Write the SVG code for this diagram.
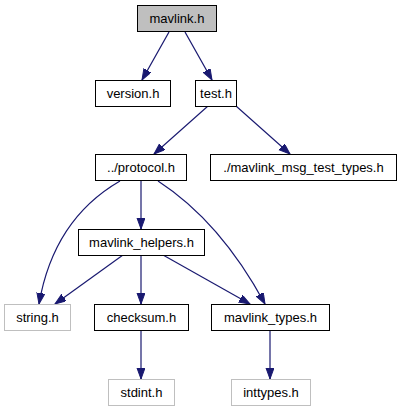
<svg xmlns="http://www.w3.org/2000/svg" width="403" height="411" viewBox="0 0 403 411">
<style>
.n rect{fill:#fff;stroke:#000;stroke-width:1}
.n.root rect{fill:#bfbfbf}
.n.ext rect{stroke:#bfbfbf}
.n text{font-family:"Liberation Sans",Arial,sans-serif;font-size:13px;fill:#000;text-anchor:middle}
.e path{fill:none;stroke:#191970;stroke-width:1.2}
</style>
<defs>
<marker id="ah" markerUnits="userSpaceOnUse" markerWidth="12" markerHeight="10" refX="11" refY="4" orient="auto">
<path d="M0,0 L11,4 L0,8 Z" fill="#191970" stroke="#191970" stroke-width="1"/>
</marker>
</defs>
<rect width="403" height="411" fill="#fff"/>
<g id="connectors" class="e">
<path d="M169,32 L142,80" marker-end="url(#ah)"/>
<path d="M185,32 L212,80" marker-end="url(#ah)"/>
<path d="M208,106 L154,154" marker-end="url(#ah)"/>
<path d="M236,106 L290,154" marker-end="url(#ah)"/>
<path d="M141,181 L141,229" marker-end="url(#ah)"/>
<path d="M120,181 C82,203 50,240 39,304" marker-end="url(#ah)"/>
<path d="M158,181 C195,205 232,243 265,304" marker-end="url(#ah)"/>
<path d="M123,255 L55,304" marker-end="url(#ah)"/>
<path d="M141,255 L141,304" marker-end="url(#ah)"/>
<path d="M163,255 L250,304" marker-end="url(#ah)"/>
<path d="M141,330 L141,379" marker-end="url(#ah)"/>
<path d="M270,330 L270,379" marker-end="url(#ah)"/>
</g>
<g id="mavlink_h" class="n root"><rect x="137.5" y="5.5" width="79" height="26"/><text x="177" y="23">mavlink.h</text></g>
<g id="version_h" class="n"><rect x="95.5" y="80.5" width="75" height="26"/><text x="133" y="98">version.h</text></g>
<g id="test_h" class="n"><rect x="195.5" y="80.5" width="41" height="26"/><text x="216" y="98">test.h</text></g>
<g id="protocol_h" class="n"><rect x="95.5" y="154.5" width="91" height="26"/><text x="141" y="172">../protocol.h</text></g>
<g id="mavlink_msg_test_types_h" class="n"><rect x="210.5" y="154.5" width="186" height="26"/><text x="303.5" y="172">./mavlink_msg_test_types.h</text></g>
<g id="mavlink_helpers_h" class="n"><rect x="78.5" y="229.5" width="126" height="26"/><text x="141.5" y="247">mavlink_helpers.h</text></g>
<g id="string_h" class="n ext"><rect x="4.5" y="304.5" width="66" height="26"/><text x="37.5" y="322">string.h</text></g>
<g id="checksum_h" class="n"><rect x="94.5" y="304.5" width="94" height="26"/><text x="141.5" y="322">checksum.h</text></g>
<g id="mavlink_types_h" class="n"><rect x="211.5" y="304.5" width="118" height="26"/><text x="270.5" y="322">mavlink_types.h</text></g>
<g id="stdint_h" class="n ext"><rect x="108.5" y="379.5" width="66" height="26"/><text x="141.5" y="397">stdint.h</text></g>
<g id="inttypes_h" class="n ext"><rect x="231.5" y="379.5" width="79" height="26"/><text x="271" y="397">inttypes.h</text></g>
</svg>
